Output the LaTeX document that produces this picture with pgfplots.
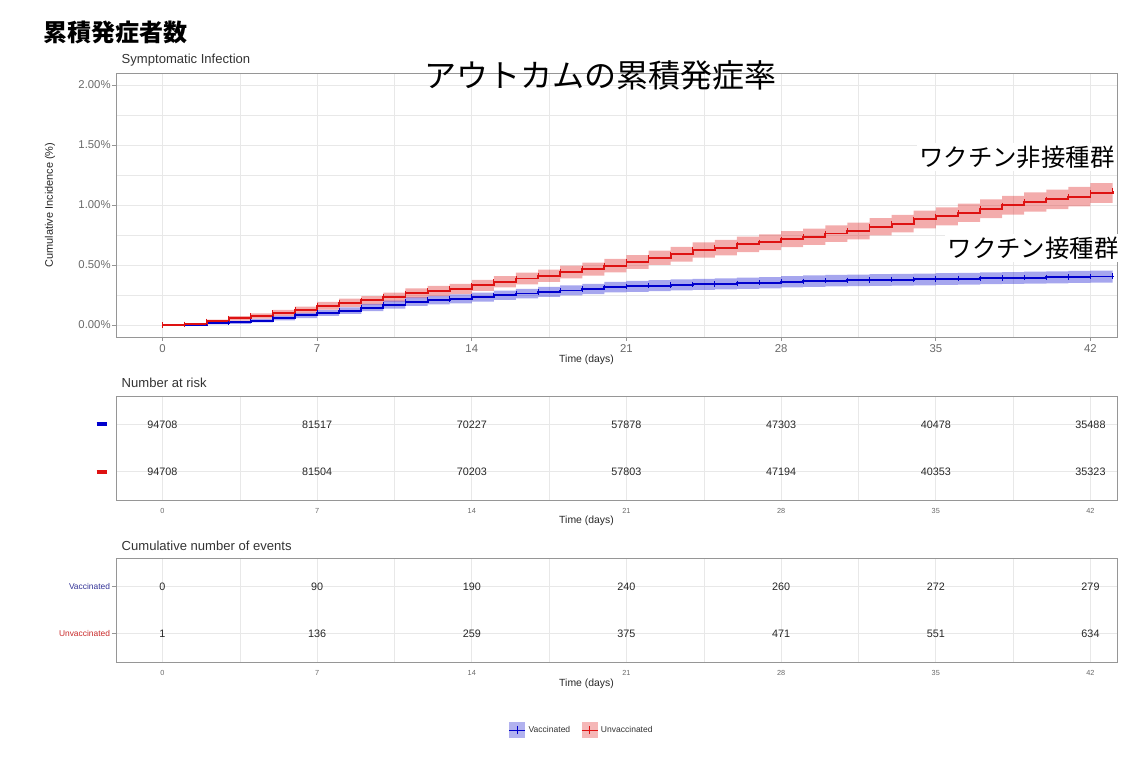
\documentclass[border=0pt]{standalone}
\usepackage{fontspec}
\setmainfont{Liberation Sans}
\newfontfamily\jp{Noto Sans CJK JP}
\usepackage{pgfplots}
\usepackage{pgfplotstable}
\pgfplotsset{compat=1.18}

\definecolor{vblue}{RGB}{0,0,205}
\definecolor{ured}{RGB}{222,18,18}
\definecolor{gridc}{RGB}{232,232,232}
\definecolor{framec}{RGB}{150,150,150}
\definecolor{tickc}{RGB}{105,105,105}
\definecolor{vtext}{RGB}{50,50,150}
\definecolor{utext}{RGB}{200,40,40}

% cumulative incidence (%)
\pgfplotstableread{
t est
0 0
1 0.006
2 0.030
3 0.055
4 0.075
5 0.100
6 0.125
7 0.160
8 0.185
9 0.205
10 0.232
11 0.265
12 0.283
13 0.300
14 0.330
15 0.360
16 0.387
17 0.410
18 0.442
19 0.466
20 0.495
21 0.525
22 0.560
23 0.590
24 0.625
25 0.645
26 0.672
27 0.690
28 0.715
29 0.736
30 0.762
31 0.783
32 0.818
33 0.845
34 0.880
35 0.905
36 0.935
37 0.968
38 0.998
39 1.025
40 1.047
41 1.070
42 1.100
43 1.120
}\unvacc

\pgfplotstableread{
t est
0 0
1 0.003
2 0.014
3 0.022
4 0.036
5 0.058
6 0.080
7 0.100
8 0.120
9 0.145
10 0.170
11 0.195
12 0.207
13 0.218
14 0.232
15 0.248
16 0.262
17 0.276
18 0.288
19 0.300
20 0.315
21 0.322
22 0.328
23 0.334
24 0.339
25 0.343
26 0.347
27 0.352
28 0.360
29 0.365
30 0.369
31 0.372
32 0.375
33 0.378
34 0.380
35 0.383
36 0.386
37 0.389
38 0.391
39 0.394
40 0.397
41 0.400
42 0.404
43 0.408
}\vacc

% 95% bands as outlines: upper limit going right, lower limit coming back
\pgfplotstableread{
t y
0 0
1 0.012
2 0.044
3 0.074
4 0.097
5 0.125
6 0.153
7 0.192
8 0.219
9 0.241
10 0.270
11 0.306
12 0.325
13 0.343
14 0.375
15 0.407
16 0.436
17 0.461
18 0.495
19 0.520
20 0.551
21 0.582
22 0.619
23 0.651
24 0.688
25 0.709
26 0.737
27 0.756
28 0.782
29 0.804
30 0.831
31 0.853
32 0.890
33 0.918
34 0.954
35 0.980
36 1.011
37 1.046
38 1.077
39 1.105
40 1.128
41 1.152
42 1.183
43 1.204
43 1.017
42 0.988
41 0.966
40 0.945
39 0.919
38 0.890
37 0.859
36 0.830
35 0.806
34 0.772
33 0.746
32 0.713
31 0.693
30 0.668
29 0.648
28 0.624
27 0.607
26 0.581
25 0.562
24 0.529
23 0.501
22 0.468
21 0.439
20 0.412
19 0.389
18 0.359
17 0.338
16 0.313
15 0.285
14 0.257
13 0.241
12 0.224
11 0.194
10 0.169
9 0.151
8 0.128
7 0.097
6 0.075
5 0.053
4 0.036
3 0.016
2 0.000
1 0
0 0
}\uband

\pgfplotstableread{
t y
0 0
1 0.007
2 0.023
3 0.034
4 0.051
5 0.077
6 0.102
7 0.125
8 0.147
9 0.175
10 0.203
11 0.230
12 0.243
13 0.255
14 0.270
15 0.287
16 0.302
17 0.318
18 0.330
19 0.343
20 0.359
21 0.367
22 0.373
23 0.380
24 0.385
25 0.389
26 0.394
27 0.399
28 0.407
29 0.413
30 0.417
31 0.420
32 0.423
33 0.427
34 0.429
35 0.432
36 0.435
37 0.438
38 0.440
39 0.444
40 0.447
41 0.450
42 0.454
43 0.458
43 0.354
42 0.350
41 0.347
40 0.344
39 0.342
38 0.340
37 0.337
36 0.334
35 0.331
34 0.329
33 0.327
32 0.324
31 0.321
30 0.317
29 0.313
28 0.305
27 0.300
26 0.297
25 0.293
24 0.288
23 0.283
22 0.277
21 0.271
20 0.257
19 0.246
18 0.234
17 0.222
16 0.209
15 0.194
14 0.181
13 0.171
12 0.160
11 0.137
10 0.115
9 0.093
8 0.075
7 0.058
6 0.039
5 0.021
4 0.010
3 0.005
2 0.000
1 0
0 0
}\vband

% number at risk (row 2 = vaccinated, row 1 = unvaccinated)
\pgfplotstableread{
t row n
0 2 94708
7 2 81517
14 2 70227
21 2 57878
28 2 47303
35 2 40478
42 2 35488
0 1 94708
7 1 81504
14 1 70203
21 1 57803
28 1 47194
35 1 40353
42 1 35323
}\risk

% cumulative number of events
\pgfplotstableread{
t row n
0 2 0
7 2 90
14 2 190
21 2 240
28 2 260
35 2 272
42 2 279
0 1 1
7 1 136
14 1 259
21 1 375
28 1 471
35 1 551
42 1 634
}\events

\pgfplotsset{
  km/.style={
    scale only axis, width=750.75pt,
    xmin=-2.1, xmax=43.2,
    xtick={0,7,...,42}, minor xtick={3.5,10.5,...,38.5},
    grid=both,
    major grid style={gridc, line width=0.7pt},
    minor grid style={gridc, line width=0.35pt},
    axis line style={framec, line width=0.7pt},
    tick style={framec, line width=0.6pt},
    tick align=outside, xtick pos=bottom, ytick pos=left,
    major tick length=3pt, minor tick length=0pt,
    /pgf/number format/assume math mode=true,
    ticklabel style={text=tickc},
    title style={anchor=west, yshift=-6.5pt, font=\fontsize{9.8}{11}\selectfont, text=black!80},
    xlabel style={anchor=center, font=\fontsize{7.8}{9}\selectfont, text=black!85},
  },
  tbl/.style={
    km, height=78pt, ymin=0.4, ymax=2.6, ytick={1,2},
    xtick style={draw=none},
    xticklabel style={font=\fontsize{5.5}{6}\selectfont},
    nodes near coords style={anchor=center, font=\fontsize{8.1}{9}\selectfont, text=black!85},
  },
}

\begin{document}
\begin{tikzpicture}
\path[use as bounding box] (0,0) rectangle (858.75pt,-571.5pt);

% main panel
\begin{axis}[km, at={(87pt,-252.75pt)}, anchor=south west, height=198pt,
  ymin=-0.1, ymax=2.1,
  ytick={0,0.5,1,1.5,2}, minor ytick={0.25,0.75,1.25,1.75},
  yticklabels={0.00\%,0.50\%,1.00\%,1.50\%,2.00\%},
  ticklabel style={font=\fontsize{8.5}{10}\selectfont},
  yticklabel style={xshift=2.5pt},
  xticklabel style={yshift=1pt},
  title={Symptomatic Infection}, title style={at={(axis description cs:0.001,1.05)}},
  xlabel={Time (days)}, xlabel style={at={(axis description cs:0.47,-0.087)}},
  ylabel={Cumulative Incidence (\%)},
  ylabel style={at={(axis description cs:-0.066,0.5)}, anchor=center, font=\fontsize{8.2}{9}\selectfont, text=black!85},
]
\addplot[const plot, draw=none, fill=ured, fill opacity=0.35] table[x=t, y=y] {\uband};
\addplot[const plot, draw=none, fill=vblue, fill opacity=0.35] table[x=t, y=y] {\vband};
\addplot[vblue, line width=1.4pt, const plot, mark=|, mark size=2pt, mark options={line width=0.6pt}] table[x=t, y=est] {\vacc};
\addplot[ured, line width=1.4pt, const plot, mark=|, mark size=2pt, mark options={line width=0.6pt}] table[x=t, y=est] {\unvacc};
\end{axis}

% number at risk
\begin{axis}[tbl, at={(87pt,-375pt)}, anchor=south west,
  yticklabels={{\textcolor{ured}{\rule{8pt}{3pt}}},{\textcolor{vblue}{\rule{8pt}{3pt}}}},
  ytick style={draw=none},
  title={Number at risk}, title style={at={(axis description cs:0.001,1.135)}},
  xlabel={Time (days)}, xlabel style={at={(axis description cs:0.47,-0.2)}},
]
\addplot[draw=none, nodes near coords, point meta=explicit symbolic] table[x=t, y=row, meta=n] {\risk};
\end{axis}

% cumulative number of events
\begin{axis}[tbl, at={(87pt,-496.5pt)}, anchor=south west,
  yticklabels={{\textcolor{utext}{Unvaccinated}},{\textcolor{vtext}{Vaccinated}}},
  yticklabel style={font=\fontsize{6.3}{7}\selectfont, xshift=2pt},
  title={Cumulative number of events}, title style={at={(axis description cs:0.001,1.125)}},
  xlabel={Time (days)}, xlabel style={at={(axis description cs:0.47,-0.21)}},
  legend style={at={(axis description cs:0.4655,-0.657)}, anchor=center, draw=none,
    legend columns=2, font=\fontsize{6.4}{7}\selectfont, text=black!80,
    /tikz/every even column/.append style={column sep=6pt}},
]
\addplot[draw=none, forget plot, nodes near coords, point meta=explicit symbolic] table[x=t, y=row, meta=n] {\events};
\addlegendimage{legend image code/.code={
  \fill[vblue, fill opacity=0.3, draw=none] (0pt,-6pt) rectangle (12pt,6pt);
  \draw[vblue, line width=1pt] (0pt,0pt) -- (12pt,0pt);
  \draw[vblue, line width=0.6pt] (6pt,-3pt) -- (6pt,3pt);}}
\addlegendentry{Vaccinated}
\addlegendimage{legend image code/.code={
  \fill[ured, fill opacity=0.3, draw=none] (0pt,-6pt) rectangle (12pt,6pt);
  \draw[ured, line width=1pt] (0pt,0pt) -- (12pt,0pt);
  \draw[ured, line width=0.6pt] (6pt,-3pt) -- (6pt,3pt);}}
\addlegendentry{Unvaccinated}
\end{axis}

% Japanese headings and group labels
\node[anchor=west, font=\jp\bfseries\fontsize{18}{20}\selectfont] at (29pt,-24pt) {累積発症者数};
\node[anchor=center, font=\jp\fontsize{24}{26}\selectfont] at (450pt,-56.25pt) {アウトカムの累積発症率};
\node[anchor=east, fill=white, inner sep=2pt, font=\jp\fontsize{18.3}{20}\selectfont] at (838pt,-117.75pt) {ワクチン非接種群};
\node[anchor=east, fill=white, inner sep=2pt, font=\jp\fontsize{18.3}{20}\selectfont] at (841pt,-186pt) {ワクチン接種群};
\end{tikzpicture}
\end{document}
